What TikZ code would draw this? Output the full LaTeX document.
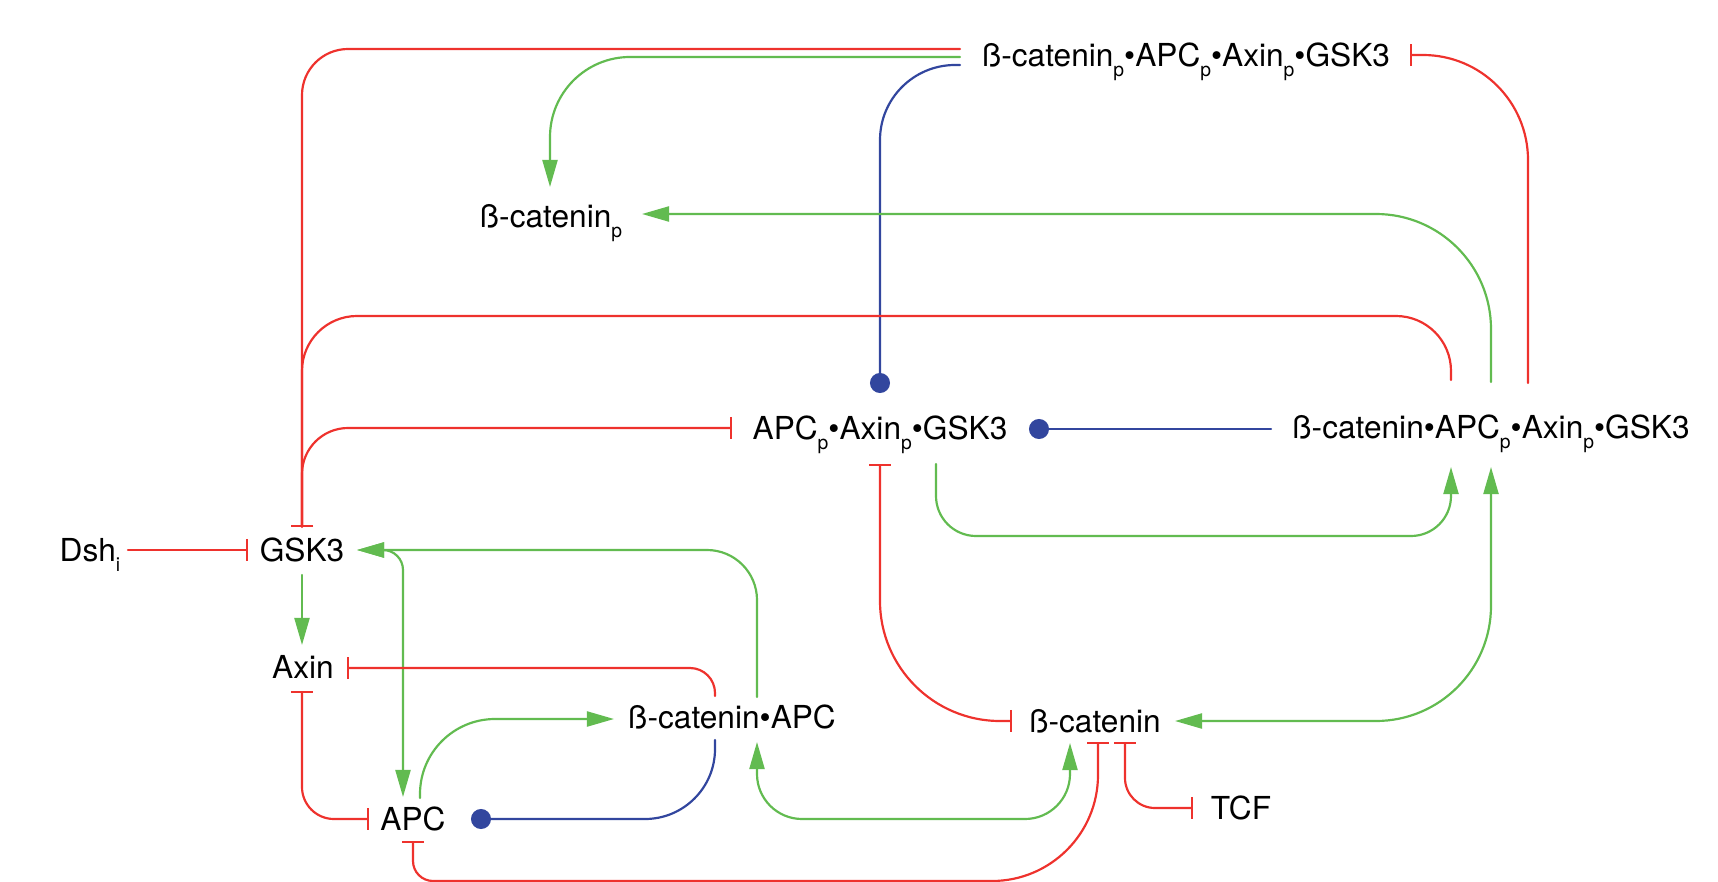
\documentclass[tikz,border=0pt]{standalone}
\usepackage{fontspec}
\setmainfont{TeX Gyre Heros}
\usetikzlibrary{arrows.meta}
\definecolor{inhred}{RGB}{238,50,45}
\definecolor{actgreen}{RGB}{98,187,80}
\definecolor{bindblue}{RGB}{50,70,158}
\newcommand{\ps}[1]{\raisebox{-3pt}{\fontsize{5.5pt}{6pt}\selectfont #1}}
\tikzset{
  mol/.style={inner sep=0pt, text height=6.46pt, text depth=0pt, font=\fontsize{9pt}{10pt}\selectfont},
  inh/.style={color=inhred, -{Bar[width=0.22cm]}},
  inhboth/.style={color=inhred, {Bar[width=0.22cm]}-{Bar[width=0.22cm]}},
  act/.style={color=actgreen, -{Triangle[length=0.27cm,width=0.15cm]}},
  actboth/.style={color=actgreen, {Triangle[length=0.27cm,width=0.15cm]}-{Triangle[length=0.27cm,width=0.15cm]}},
  bind/.style={color=bindblue, -{Circle[length=0.2cm]}}
}

\begin{document}
\begin{tikzpicture}[x=0.01cm, y=-0.01cm, line width=0.62pt, line cap=round, line join=round]
\useasboundingbox (0,0) rectangle (1718,882);

% Species
\node[mol] (topcx) at (1186,55) {ß-catenin\ps{p}•APC\ps{p}•Axin\ps{p}•GSK3};
\node[mol] (bcatp) at (551,216) {ß-catenin\ps{p}};
\node[mol] (apcx) at (880,428) {APC\ps{p}•Axin\ps{p}•GSK3};
\node[mol] (bapcx) at (1491,427) {ß-catenin•APC\ps{p}•Axin\ps{p}•GSK3};
\node[mol] (dsh) at (90,550) {Dsh\ps{i}};
\node[mol] (gsk) at (302,550) {GSK3};
\node[mol] (axin) at (303,667) {Axin};
\node[mol] (bapc) at (732,717) {ß-catenin•APC};
\node[mol] (apc) at (413,819) {APC};
\node[mol] (bcat) at (1095,721) {ß-catenin};
\node[mol] (tcf) at (1241,808) {TCF};

% Top complex
\draw[inh, rounded corners=0.46cm] ([shift={(-226,-6)}]topcx.center) -| ([shift={(0,-23)}]gsk.center);
\draw[act, rounded corners=0.8cm] ([shift={(-226,2)}]topcx.center) -| ([shift={(-1,-29)}]bcatp.center);
\draw[bind, rounded corners=0.75cm] ([shift={(-226,10)}]topcx.center) -| ([shift={(0,-35)}]apcx.center);
\draw[inh, rounded corners=1.05cm] ([shift={(37,-44)}]bapcx.center) |- ([shift={(224,0)}]topcx.center);

% Big complex
\draw[inh, rounded corners=0.55cm] ([shift={(-40,-47)}]bapcx.center) |- ([shift={(0,-234)}]gsk.center) -- ([shift={(0,-23)}]gsk.center);
\draw[act, rounded corners=1.15cm] ([shift={(0,-45)}]bapcx.center) |- ([shift={(91,-2)}]bcatp.center);
\draw[bind] ([shift={(-220,2)}]bapcx.center) -- ([shift={(149,1)}]apcx.center);
\draw[actboth, rounded corners=1.15cm] ([shift={(80,0)}]bcat.center) -| ([shift={(0,40)}]bapcx.center);

% APCp complex
\draw[inh, rounded corners=0.46cm] ([shift={(0,-23)}]gsk.center) |- ([shift={(-148,0)}]apcx.center);
\draw[act, rounded corners=0.4cm] ([shift={(56,36)}]apcx.center) -- ++(0,72) -| ([shift={(-40,40)}]bapcx.center);
\draw[inhboth, rounded corners=1.2cm] ([shift={(0,36)}]apcx.center) |- ([shift={(-83,0)}]bcat.center);

% GSK3, Axin, APC
\draw[inh] ([shift={(38,0)}]dsh.center) -- ([shift={(-54,0)}]gsk.center);
\draw[act] ([shift={(0,25)}]gsk.center) -- ([shift={(-1,-22)}]axin.center);
\draw[act, rounded corners=0.5cm] ([shift={(25,-20)}]bapc.center) |- ([shift={(55,0)}]gsk.center);
\draw[actboth, rounded corners=0.2cm] ([shift={(55,0)}]gsk.center) -| ([shift={(-10,-22)}]apc.center);
\draw[inh, rounded corners=0.25cm] ([shift={(-17,-21)}]bapc.center) |- ([shift={(44,1)}]axin.center);
\draw[inhboth, rounded corners=0.32cm] ([shift={(-1,24)}]axin.center) |- ([shift={(-44,0)}]apc.center);
\draw[act, rounded corners=0.75cm] ([shift={(7,-21)}]apc.center) |- ([shift={(-118,2)}]bapc.center);
\draw[bind, rounded corners=0.7cm] ([shift={(-17,23)}]bapc.center) |- ([shift={(58,0)}]apc.center);

% beta-catenin
\draw[actboth, rounded corners=0.45cm] ([shift={(25,25)}]bapc.center) -- ++(0,77) -| ([shift={(-25,22)}]bcat.center);
\draw[inhboth] ([shift={(0,22)}]apc.center) [rounded corners=0.2cm] -- ++(0,40) [rounded corners=1.06cm] -| ([shift={(3,21)}]bcat.center);
\draw[inhboth, rounded corners=0.3cm] ([shift={(30,21)}]bcat.center) |- ([shift={(-48,0)}]tcf.center);
\end{tikzpicture}
\end{document}
